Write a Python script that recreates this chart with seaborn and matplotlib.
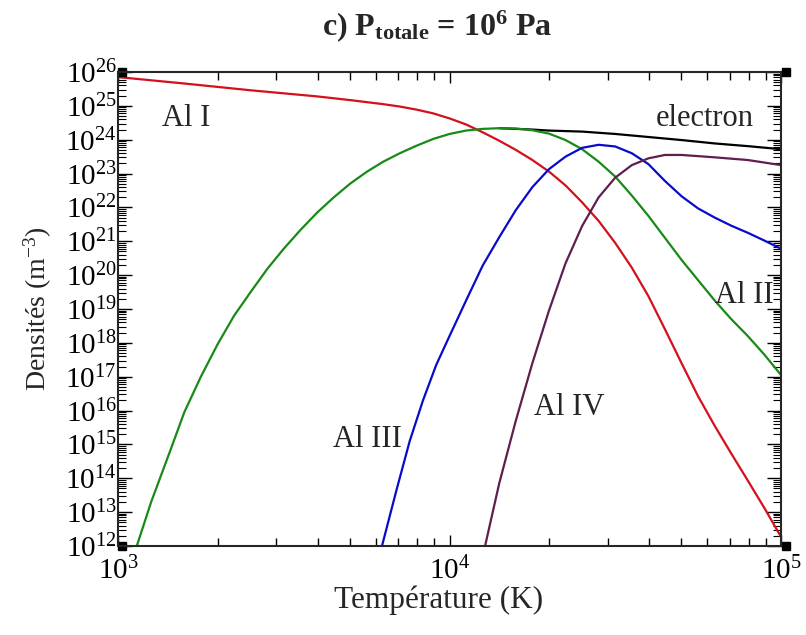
import numpy as np
import matplotlib
matplotlib.use("Agg")
import matplotlib.pyplot as plt
import seaborn as sns
from matplotlib.ticker import LogLocator, NullFormatter

# ---- data: log10(T / K) and log10(density / m^-3) ----
logT_al1 = [3.0, 3.2, 3.4, 3.6, 3.7, 3.8, 3.85, 3.9, 3.95, 4.0, 4.05, 4.1, 4.15,
            4.2, 4.25, 4.3, 4.35, 4.4, 4.45, 4.5, 4.55, 4.6, 4.65, 4.7, 4.75,
            4.8, 4.85, 4.9, 4.95, 5.0]
logn_al1 = [25.85, 25.66, 25.46, 25.28, 25.17, 25.05, 24.98, 24.89, 24.78, 24.63,
            24.45, 24.22, 23.97, 23.70, 23.40, 23.06, 22.65, 22.15, 21.6, 20.95,
            20.22, 19.38, 18.4, 17.4, 16.42, 15.55, 14.73, 13.93, 13.12, 12.27]

logT_al2 = [3.05, 3.1, 3.157, 3.2, 3.25, 3.3, 3.35, 3.4, 3.45, 3.5, 3.55, 3.6,
            3.65, 3.7, 3.75, 3.8, 3.85, 3.9, 3.95, 4.0, 4.05, 4.1, 4.15, 4.2,
            4.25, 4.3, 4.35, 4.4, 4.45, 4.5, 4.55, 4.6, 4.65, 4.7, 4.75, 4.8,
            4.85, 4.9, 4.95, 5.0]
logn_al2 = [11.8, 13.3, 14.8, 15.95, 17.0, 17.95, 18.8, 19.5, 20.18, 20.78, 21.33,
            21.84, 22.29, 22.7, 23.05, 23.35, 23.6, 23.82, 24.02, 24.17, 24.27,
            24.32, 24.34, 24.33, 24.28, 24.18, 23.99, 23.72, 23.35, 22.91, 22.35,
            21.75, 21.1, 20.45, 19.85, 19.25, 18.7, 18.2, 17.65, 17.05]

logT_al3 = [3.795, 3.84, 3.88, 3.92, 3.96, 4.0, 4.05, 4.1, 4.15, 4.2, 4.25, 4.3,
            4.35, 4.4, 4.45, 4.5, 4.55, 4.6, 4.65, 4.7, 4.75, 4.8, 4.85, 4.9,
            4.95, 5.0]
logn_al3 = [11.95, 13.65, 15.1, 16.3, 17.35, 18.2, 19.25, 20.28, 21.12, 21.92,
            22.6, 23.13, 23.5, 23.76, 23.85, 23.8, 23.6, 23.28, 22.78, 22.33,
            21.97, 21.7, 21.46, 21.25, 21.02, 20.78]

logT_al4 = [4.105, 4.15, 4.2, 4.25, 4.3, 4.35, 4.4, 4.45, 4.5, 4.55, 4.6, 4.65,
            4.7, 4.8, 4.9, 5.0]
logn_al4 = [11.9, 13.85, 15.7, 17.4, 18.95, 20.35, 21.45, 22.3, 22.88, 23.25,
            23.45, 23.55, 23.55, 23.48, 23.40, 23.25]

logT_el = [4.15, 4.25, 4.3, 4.4, 4.5, 4.6, 4.7, 4.8, 4.9, 5.0]
logn_el = [24.34, 24.30, 24.27, 24.24, 24.17, 24.08, 23.99, 23.89, 23.81, 23.72]

y_decades = list(range(12, 27))
x_decades = [3, 4, 5]

# ---- style ----
sns.set_style("ticks")
plt.rcParams["font.family"] = ["Liberation Serif", "DejaVu Serif"]
plt.rcParams["mathtext.fontset"] = "custom"
plt.rcParams["mathtext.rm"] = "Liberation Serif"
plt.rcParams["mathtext.it"] = "Liberation Serif:italic"
plt.rcParams["mathtext.bf"] = "Liberation Serif:bold"

fig = plt.figure(figsize=(8.06, 6.35), dpi=100)
ax = fig.add_axes([118 / 806, 1 - 546 / 635, (781 - 118) / 806, (546 - 72) / 635])

lw = 1.6
series = [
    (logT_el, logn_el, "black"),
    (logT_al1, logn_al1, "#d4101c"),
    (logT_al2, logn_al2, "#178a17"),
    (logT_al3, logn_al3, "#0a0acc"),
    (logT_al4, logn_al4, "#5e1e4e"),
]
for lt, ln, c in series:
    sns.lineplot(x=10.0 ** np.array(lt), y=10.0 ** np.array(ln), ax=ax,
                 color=c, linewidth=lw, sort=False, estimator=None)

ax.set_xscale("log")
ax.set_yscale("log")
ax.set_xlim(10.0 ** x_decades[0], 10.0 ** x_decades[-1])
ax.set_ylim(10.0 ** y_decades[0], 10.0 ** y_decades[-1])

ax.set_yticks([10.0 ** d for d in y_decades])
ax.set_yticklabels([r"$10^{%d}$" % d for d in y_decades])
ax.set_xticks([10.0 ** d for d in x_decades])
ax.set_xticklabels([r"$10^{%d}$" % d for d in x_decades])
ax.yaxis.set_minor_locator(LogLocator(base=10, subs=np.arange(2, 10), numticks=200))
ax.xaxis.set_minor_locator(LogLocator(base=10, subs=np.arange(2, 10), numticks=200))
ax.yaxis.set_minor_formatter(NullFormatter())
ax.xaxis.set_minor_formatter(NullFormatter())

for s in ax.spines.values():
    s.set_linewidth(1.5)
    s.set_visible(True)

ax.tick_params(axis="both", which="both", direction="in", top=True, right=True,
               width=1.0, colors="black")
ax.tick_params(axis="y", which="major", length=10, pad=1, labelsize=21)
ax.tick_params(axis="y", which="minor", length=6, width=0.8)
ax.tick_params(axis="x", which="major", length=8, pad=8, labelsize=21)
ax.tick_params(axis="x", which="minor", length=6)

ax.set_xlabel("Température (K)", fontsize=22.5)
ax.xaxis.set_label_coords(0.484, -0.083)
ax.set_ylabel(r"Densités (m$^{-3}$)", fontsize=20)
ax.yaxis.set_label_coords(-0.097, 0.5)

fig.text(437 / 806, 1 - 35 / 635, r"c) P$_{\mathbf{totale}}$ = 10$^{\mathbf{6}}$ Pa",
         fontsize=23, fontweight="bold", ha="center", va="baseline")

# corner marks of the frame
for xa, ya in [(0.006, 0.0), (0.006, 1.0), (1.0075, 0.0), (1.0075, 1.0)]:
    ax.plot([xa], [ya], marker="s", markersize=6, color="black",
            transform=ax.transAxes, clip_on=False)

lab_kw = dict(fontsize=22, ha="center", va="baseline")
ax.text(1604, 10 ** 24.41, "Al I", **lab_kw)
ax.text(59000, 10 ** 24.41, "electron", **lab_kw)
ax.text(10 ** 4.89, 10 ** 19.18, "Al II", **lab_kw)
ax.text(5663, 10 ** 14.93, "Al III", **lab_kw)
ax.text(22900, 10 ** 15.87, "Al IV", **lab_kw)

fig.savefig("out.png", dpi=100)
